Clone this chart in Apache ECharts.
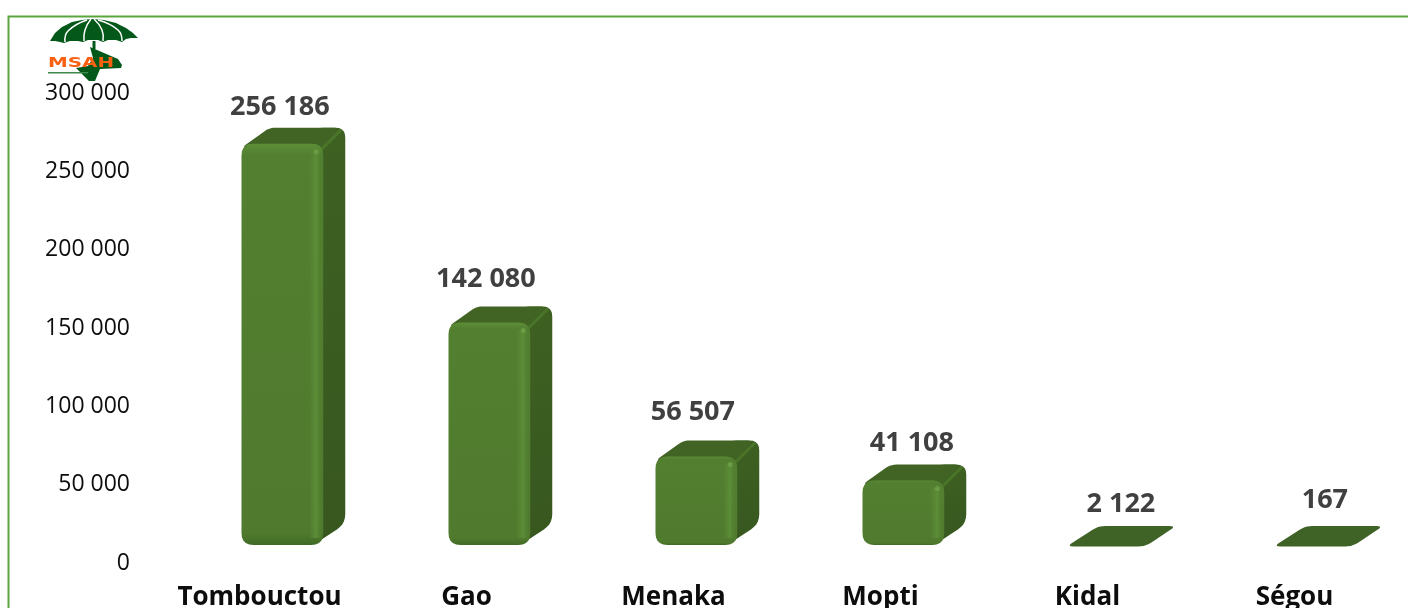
<!DOCTYPE html>
<html>
<head>
<meta charset="utf-8">
<title>MSAH</title>
<style>
  html, body { margin: 0; padding: 0; background: #fff; }
  #chart { width: 1408px; height: 608px; }
</style>
<script src="https://cdn.jsdelivr.net/npm/echarts@6/dist/echarts.min.js"></script>
</head>
<body>
<div id="chart"></div>
<script>
const regions = ['Tombouctou', 'Gao', 'Menaka', 'Mopti', 'Kidal', 'Ségou'];
const values = [256186, 142080, 56507, 41108, 2122, 167];
const yMax = 300000;
const yStep = 50000;

// the value labels were hand-placed in the original, nudge them the same way
const labelNudgeX = [-2.5, -3.5, -3.5, 8.5, 10.5, 7.5];
const labelNudgeY = [20, 27, 28, 21, 22, 26];

const fontName = '"Open Sans", sans-serif';

const spaced = v => String(v).replace(/\B(?=(\d{3})+(?!\d))/g, ' ');

// polygon with rounded corners, sampled so it can go in a plain polygon shape
const roundPoly = (pts, r) => {
  const out = [];
  pts.forEach((p, i) => {
    const a = pts[(i + pts.length - 1) % pts.length];
    const b = pts[(i + 1) % pts.length];
    const da = Math.hypot(a[0] - p[0], a[1] - p[1]);
    const db = Math.hypot(b[0] - p[0], b[1] - p[1]);
    const ra = Math.min(r, da / 2) / da;
    const rb = Math.min(r, db / 2) / db;
    const s = [p[0] + (a[0] - p[0]) * ra, p[1] + (a[1] - p[1]) * ra];
    const e = [p[0] + (b[0] - p[0]) * rb, p[1] + (b[1] - p[1]) * rb];
    for (let t = 0; t <= 1.001; t += 0.2) {
      const u = 1 - t;
      out.push([
        u * u * s[0] + 2 * u * t * p[0] + t * t * e[0],
        u * u * s[1] + 2 * u * t * p[1] + t * t * e[1]
      ]);
    }
  });
  return out;
};

const grad = (x, y, x2, y2, stops) => new echarts.graphic.LinearGradient(
  x, y, x2, y2, stops.map(s => ({ offset: s[0], color: s[1] }))
);

const renderBar = (params, api) => {
  const i = api.value(0);
  const val = api.value(1);
  const top0 = api.coord([i, val]);
  const base0 = api.coord([i, 0]);
  const step = api.size([1, 0])[0];

  // the 3D box sits up and to the right of the axis plane
  const fl = top0[0] - step * 0.087;
  const fr = fl + step * 0.395;
  const by = base0[1] - 18;
  const ty = top0[1] - 18;
  const dx = 22;
  const dy = 16;
  const kids = [];
  let backTop;

  if (by - ty < 6) {
    // almost no height left: only the lid is visible
    backTop = by - 20 + 1;
    kids.push({
      type: 'polygon',
      shape: { points: roundPoly([[fl - 3, by + 1.5], [fl + dx + 7, backTop], [fr + dx + 3, backTop], [fr - 6, by + 1.5]], 7) },
      style: { fill: '#3f6226' }
    });
  } else {
    backTop = ty - dy;
    // side face also carries the back corner, the lid stops short of it
    kids.push({
      type: 'polygon',
      shape: { points: roundPoly([[fr - 10, by], [fr - 10, backTop], [fr + dx, backTop], [fr + dx, by - 21]], 10) },
      style: { fill: grad(0, 0, 1, 1, [[0, '#3e6122'], [1, '#37571f']]) }
    });
    kids.push({
      type: 'polygon',
      shape: { points: roundPoly([[fl, ty + 4], [fl + 28, backTop], [fr + dx - 6, backTop], [fr - 3, ty + 6]], 6) },
      style: { fill: '#416424' }
    });
    kids.push({
      type: 'line',
      shape: { x1: fr - 2, y1: ty + 6, x2: fr + dx - 5, y2: backTop + 3 },
      style: { stroke: '#4a7529', lineWidth: 3, lineCap: 'round' }
    });
    kids.push({
      type: 'polygon',
      shape: { points: roundPoly([[fl, ty], [fr, ty], [fr, by], [fl, by]], 12) },
      style: { fill: grad(0, 0, 0, 1, [[0, '#5d8e37'], [0.03, '#537f31'], [0.97, '#507b2e'], [1, '#3f6a24']]) }
    });
    kids.push({
      type: 'rect',
      shape: { x: fr - 14, y: ty + 7, width: 13, height: by - ty - 14 },
      style: { fill: grad(0, 0, 1, 0, [[0, 'rgba(92,141,55,0)'], [0.55, '#5c8d37'], [1, 'rgba(80,123,46,0)']]) }
    });
    kids.push({
      type: 'circle',
      shape: { cx: fr - 7, cy: ty + 8, r: 2.5 },
      style: { fill: '#74a34c', opacity: 0.7 }
    });
  }

  kids.push({
    type: 'text',
    style: {
      text: spaced(val),
      x: (fl + fr) / 2 + labelNudgeX[i],
      y: backTop - labelNudgeY[i],
      align: 'center',
      verticalAlign: 'middle',
      font: 'bold 27px ' + fontName,
      fill: '#404040'
    }
  });
  return { type: 'group', children: kids };
};

const chart = echarts.init(document.getElementById('chart'));
chart.setOption({
  backgroundColor: '#fff',
  animation: false,
  grid: { left: 156, right: 10, top: 93, bottom: 45, outerBoundsMode: 'none' },
  xAxis: {
    type: 'category',
    data: regions,
    axisLine: { show: false },
    axisTick: { show: false },
    axisLabel: {
      interval: 0,
      margin: 22,
      color: '#0d0d0d',
      fontFamily: fontName,
      fontWeight: 'bold',
      fontSize: 26
    }
  },
  yAxis: {
    type: 'value',
    min: 0,
    max: yMax,
    interval: yStep,
    splitLine: { show: false },
    axisLine: { show: false },
    axisTick: { show: false },
    axisLabel: {
      margin: 26,
      color: '#0d0d0d',
      fontFamily: fontName,
      fontSize: 23,
      formatter: spaced
    }
  },
  series: [{
    type: 'custom',
    clip: false,
    data: values.map((v, i) => [i, v]),
    encode: { x: 0, y: 1 },
    renderItem: renderBar
  }],
  graphic: [
    // frame, runs off the right and bottom of the picture
    { type: 'rect', shape: { x: 8.5, y: 16.5, width: 1500, height: 700 },
      style: { fill: 'none', stroke: '#5ba53f', lineWidth: 2 } },
    // logo
    { type: 'polygon',
      shape: { points: [[50, 41], [55, 33], [62, 27], [72, 22], [82, 20], [92, 19], [104, 20], [116, 23], [126, 28], [133, 33], [138, 38], [131, 38], [126, 39], [122, 42], [116, 40], [108, 40], [103, 42], [98, 40], [88, 40], [83, 42], [78, 41], [70, 41], [64, 43], [60, 42], [55, 41]] },
      style: { fill: '#03581a' } },
    { type: 'rect', shape: { x: 92.5, y: 41, width: 3, height: 8 }, style: { fill: '#03581a' } },
    { type: 'polyline', shape: { points: [[65, 42], [68, 31], [87, 20]], smooth: 0.5 }, style: { stroke: '#fff', lineWidth: 1.5, fill: 'none' } },
    { type: 'polyline', shape: { points: [[84, 41], [85, 30], [91, 19]], smooth: 0.5 }, style: { stroke: '#fff', lineWidth: 1.5, fill: 'none' } },
    { type: 'polyline', shape: { points: [[103, 41], [102, 30], [94, 19]], smooth: 0.5 }, style: { stroke: '#fff', lineWidth: 1.5, fill: 'none' } },
    { type: 'polyline', shape: { points: [[122, 41], [118, 30], [98, 20]], smooth: 0.5 }, style: { stroke: '#fff', lineWidth: 1.5, fill: 'none' } },
    { type: 'polygon',
      shape: { points: [[90, 47], [118, 59], [122, 65], [121, 68], [100, 69], [95, 81], [89, 81], [80, 72], [76, 68], [88, 66], [93, 58]] },
      style: { fill: '#03581a' } },
    { type: 'rect', shape: { x: 48, y: 72, width: 40, height: 1.5 }, style: { fill: '#3d8a4d' } },
    { type: 'text', x: 48, y: 56, scaleX: 1.42,
      style: { text: 'MSAH', font: 'bold 14px "DejaVu Sans", sans-serif', fill: '#fb6011' } }
  ]
});
</script>
</body>
</html>
